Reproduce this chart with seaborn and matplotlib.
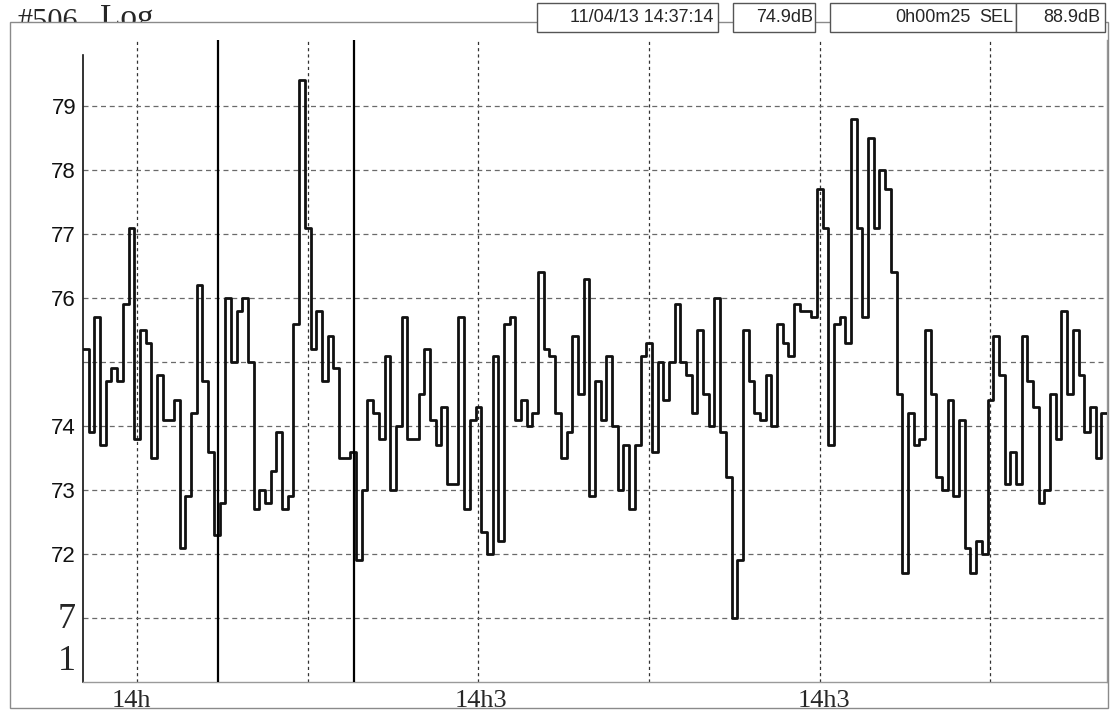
import numpy as np
import pandas as pd
import matplotlib
matplotlib.use("Agg")
import matplotlib.pyplot as plt
from matplotlib.patches import Rectangle
import seaborn as sns

# one reading per second (dB)
levels = [
    75.2, 73.9, 75.7, 73.7, 74.7, 74.9, 74.7, 75.9, 77.1, 73.8,
    75.5, 75.3, 73.5, 74.8, 74.1, 74.1, 74.4, 72.1, 72.9, 74.2,
    76.2, 74.7, 73.6, 72.3, 72.8, 76.0, 75.0, 75.8, 76.0, 75.0,
    72.7, 73.0, 72.8, 73.3, 73.9, 72.7, 72.9, 75.6, 79.4, 77.1,
    75.2, 75.8, 74.7, 75.4, 74.9, 73.5, 73.5, 73.6, 71.9, 73.0,
    74.4, 74.2, 73.8, 75.1, 73.0, 74.0, 75.7, 73.8, 73.8, 74.5,
    75.2, 74.1, 73.7, 74.3, 73.1, 73.1, 75.7, 72.7, 74.1, 74.3,
    72.35, 72.0, 75.1, 72.2, 75.6, 75.7, 74.1, 74.4, 74.0, 74.2,
    76.4, 75.2, 75.1, 74.2, 73.5, 73.9, 75.4, 74.5, 76.3, 72.9,
    74.7, 74.1, 75.1, 74.0, 73.0, 73.7, 72.7, 73.7, 75.1, 75.3,
    73.6, 75.0, 74.4, 75.0, 75.9, 75.0, 74.8, 74.2, 75.5, 74.5,
    74.0, 76.0, 73.9, 73.2, 71.0, 71.9, 75.5, 74.7, 74.2, 74.1,
    74.8, 74.0, 75.6, 75.3, 75.1, 75.9, 75.8, 75.8, 75.7, 77.7,
    77.1, 73.7, 75.6, 75.7, 75.3, 78.8, 77.1, 75.7, 78.5, 77.1,
    78.0, 77.7, 76.4, 74.5, 71.7, 74.2, 73.7, 73.8, 75.5, 74.5,
    73.2, 73.0, 74.4, 72.9, 74.1, 72.1, 71.7, 72.2, 72.0, 74.4,
    75.4, 74.8, 73.1, 73.6, 73.1, 75.4, 74.7, 74.3, 72.8, 73.0,
    74.5, 73.8, 75.8, 74.5, 75.5, 74.8, 73.9, 74.3, 73.5, 74.2,
]
grid_s = [9.5, 39.5, 69.5, 99.5, 129.5, 159.5]
cursor_s = [23.7, 47.6]
ytick_vals = [71, 72, 73, 74, 75, 76, 77, 78, 79]
ytick_text = ["", "72", "73", "74", "", "76", "77", "78", "79"]
xlabels = ["14h", "14h3", "14h3"]
header_vals = ["11/04/13 14:37:14", "74.9dB", "0h00m25", "SEL", "88.9dB"]

W, H = 1112, 713
SERIF = ['Liberation Serif', 'DejaVu Serif']


def fx(x):
    return x / W


def fy(y):
    return 1 - y / H


sns.set_style("white")
plt.rcParams['font.family'] = ['Liberation Sans', 'DejaVu Sans']

fig = plt.figure(figsize=(W / 100, H / 100), dpi=100)
fig.patch.set_facecolor('white')

# outer frame of the printout
fig.add_artist(Rectangle((fx(10), fy(708)), fx(1098), (708 - 22) / H, transform=fig.transFigure,
                         fill=False, edgecolor='#8a8a8a', lw=1.0))

# main trace panel
ax = fig.add_axes([fx(83), fy(682), fx(1024), (682 - 40) / H])
df = pd.DataFrame({'s': np.arange(len(levels) + 1), 'dB': levels + [levels[-1]]})
sns.lineplot(data=df, x='s', y='dB', drawstyle='steps-post', color='#111111', lw=2.0, ax=ax, zorder=5)
for c in cursor_s:
    ax.axvline(c, color='black', lw=1.6, zorder=7)

ax.set_xlim(0, len(levels))
ax.set_ylim(70, 80.03)
ax.set_xticks(grid_s)
ax.set_xticklabels([])
ax.set_yticks(ytick_vals)
ax.set_yticklabels(ytick_text, fontsize=16)
ax.grid(axis='x', color='#333333', ls=(0, (2.5, 2.5)), lw=0.9)
ax.grid(axis='y', color='#6a6a6a', ls=(0, (4, 3)), lw=0.9)
ax.tick_params(axis='y', direction='out', length=5, width=1, pad=0, colors='#111111')
ax.tick_params(axis='x', direction='out', length=7, width=1, colors='#333333')
ax.set_xlabel('')
ax.set_ylabel('')
ax.spines['top'].set_visible(False)
ax.spines['left'].set_color('#111111')
ax.spines['left'].set_linewidth(1.2)
ax.spines['left'].set_bounds(70, 79.8)
for side in ['bottom', 'right']:
    ax.spines[side].set_color('#9a9a9a')
    ax.spines[side].set_linewidth(1.0)

# broken serif labels on the axes
fig.text(fx(58), fy(620), "7", family=SERIF, fontsize=26, va='center')
fig.text(fx(58), fy(662), "1", family=SERIF, fontsize=26, va='center')

# time labels along the lower edge of the page
for txt, x in zip(xlabels, [112, 455, 798]):
    fig.text(fx(x), fy(712), txt, family=SERIF, fontsize=19, va='bottom', ha='left')

# header strip
top = fig.add_axes([0, fy(22), 1, 22 / H])
top.axis('off')
top.set_xlim(0, W)
top.set_ylim(22, 0)
top.text(18, 8, "#506", family=SERIF, fontsize=22, va='top', clip_on=True)
top.text(100, 4, "Log", family=SERIF, fontsize=24, va='top', clip_on=True)

boxes = [(537, 718), (733, 815), (830, 1016), (1016, 1105)]
for x0, x1 in boxes:
    fig.add_artist(Rectangle((fx(x0), fy(32)), fx(x1 - x0), 29 / H, transform=fig.transFigure,
                             facecolor='white', edgecolor='#555555', lw=1.0, zorder=10))
fig.text(fx(713), fy(17), header_vals[0], fontsize=13, ha='right', va='center', zorder=11)
fig.text(fx(813), fy(17), header_vals[1], fontsize=13, ha='right', va='center', zorder=11)
fig.text(fx(971), fy(17), header_vals[2], fontsize=13, ha='right', va='center', zorder=11)
fig.text(fx(979), fy(17), header_vals[3], fontsize=13, ha='left', va='center', zorder=11)
fig.text(fx(1100), fy(17), header_vals[4], fontsize=13, ha='right', va='center', zorder=11)

fig.savefig('out.png', dpi=100)
